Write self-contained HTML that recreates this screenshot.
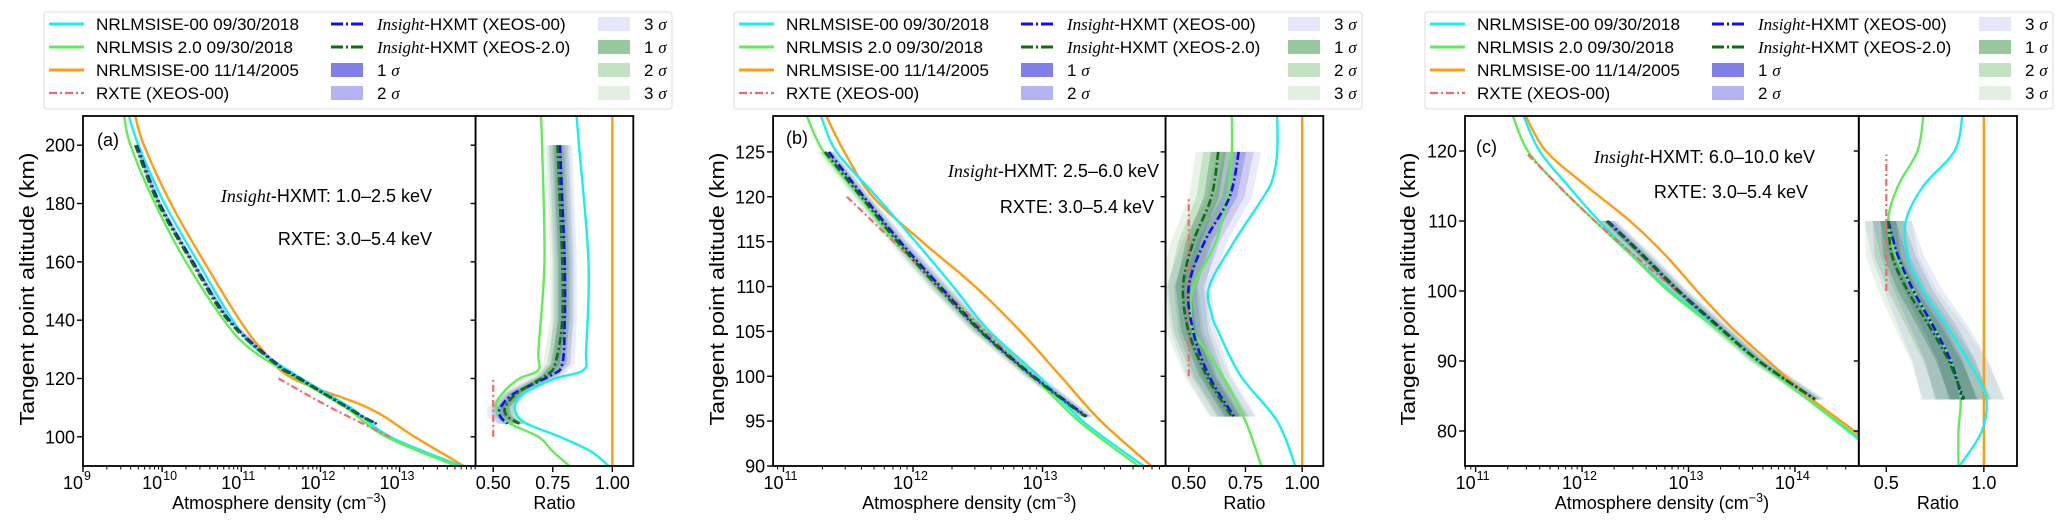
<!DOCTYPE html>
<html><head><meta charset="utf-8"><style>
html,body{margin:0;padding:0;background:#fff;}
svg{display:block;font-family:"Liberation Sans","DejaVu Sans",sans-serif;}
</style></head><body>
<svg id="fig" width="2067" height="527" viewBox="0 0 2067 527" xmlns="http://www.w3.org/2000/svg"></svg>
<script>
// ---------- Panel (a) data ----------
const altA = [210,200,180,160,140,130,120,110,100,90];
const cyanA = [9.58,9.70,10.03,10.45,10.89,11.2,11.76,12.38,12.88,13.78];
const greenA = [9.52,9.60,9.91,10.30,10.78,11.12,11.70,12.32,12.83,13.72];
const orangeA = [9.66,9.77,10.11,10.53,10.98,11.26,11.65,12.6,13.19,13.81];
const ratioAltA = [210,200,160,130,123,120,115,110,105,100,95,90];
const cyanRatioA = [0.85,0.86,0.90,0.89,0.88,0.76,0.63,0.59,0.63,0.78,0.91,0.985];
const greenRatioA = [0.70,0.705,0.715,0.69,0.69,0.61,0.54,0.51,0.56,0.69,0.75,0.82];
const hxmtAltA = [200,180,160,140,125,121,115,110,107,104.5];
const hxmtBlueA = [9.68,9.97,10.39,10.85,11.45,11.68,12.04,12.35,12.53,12.71];
const hxmtGreenA = [9.66,9.95,10.37,10.83,11.43,11.66,12.03,12.34,12.52,12.70];
const hxmtBlueRatioA = [0.78,0.79,0.80,0.80,0.79,0.74,0.59,0.53,0.53,0.56];
const hxmtGreenRatioA = [0.77,0.78,0.79,0.79,0.76,0.72,0.60,0.55,0.56,0.61];
const sigA = [0.017,0.017,0.017,0.017,0.017,0.017,0.018,0.018,0.018,0.018];
const rxteAltA = [120,110,100];
const rxteA = [11.47,12.13,12.88];
// ---------- Panel (b) data ----------
const altB = [129,125,120,115,110,105,100,95,90];
const cyanB = [11.29,11.41,11.72,12.02,12.31,12.59,12.97,13.31,13.78];
const greenB = [11.18,11.31,11.59,11.86,12.21,12.55,12.93,13.28,13.74];
const orangeB = [11.33,11.47,11.69,12.07,12.48,12.83,13.14,13.45,13.84];
const ratioAltB = [129,125,122,120,115,110,107,105,100,95,90];
const cyanRatioB = [0.89,0.89,0.87,0.83,0.70,0.59,0.60,0.63,0.73,0.89,0.97];
const greenRatioB = [0.69,0.69,0.68,0.67,0.62,0.52,0.51,0.52,0.65,0.75,0.82];
const hxmtAltB = [125,120,115,110,105,100,95.5];
const hxmtBlueB = [11.35,11.62,11.90,12.21,12.53,12.93,13.34];
const hxmtGreenB = [11.32,11.60,11.88,12.19,12.52,12.92,13.33];
const hxmtBlueRatioB = [0.72,0.68,0.57,0.50,0.52,0.59,0.70];
const hxmtGreenRatioB = [0.63,0.60,0.52,0.475,0.50,0.58,0.69];
const sigB = [0.033,0.033,0.033,0.033,0.033,0.033,0.033];
const rxteAltB = [120,110,100];
const rxteB = [11.49,12.21,12.91];
// ---------- Panel (c) data ----------
const altC = [125,120,115,110,105,100,95,90,85,80,75];
const cyanC = [11.45,11.60,11.87,12.16,12.49,12.83,13.25,13.66,14.08,14.50,14.90];
const greenC = [11.35,11.49,11.78,12.12,12.47,12.81,13.23,13.64,14.08,14.52,14.95];
const orangeC = [11.47,11.66,12.04,12.45,12.79,13.08,13.39,13.75,14.12,14.56,15.00];
const ratioAltC = [125,120,115,110,105,100,95,90,85,80,75];
const cyanRatioC = [0.89,0.85,0.69,0.60,0.61,0.69,0.81,0.92,1.01,0.99,0.875];
const greenRatioC = [0.69,0.66,0.56,0.51,0.55,0.64,0.74,0.83,0.88,0.87,0.87];
const hxmtAltC = [110,105,100,95,90,84.5];
const hxmtBlueC = [12.24,12.58,12.91,13.28,13.66,14.19];
const hxmtGreenC = [12.23,12.57,12.90,13.27,13.66,14.19];
const hxmtBlueRatioC = [0.51,0.56,0.64,0.74,0.83,0.89];
const hxmtGreenRatioC = [0.51,0.53,0.61,0.72,0.82,0.90];
const sigC = [0.04,0.045,0.05,0.06,0.065,0.07];
const rxteAltC = [119.5,110,100];
const rxteC = [11.49,12.12,12.89];
// ---------- tick labels ----------
const yTicksA = [100,120,140,160,180,200];
const yTicksB = [90,95,100,105,110,115,120,125];
const yTicksC = [80,90,100,110,120];
const xDecA = [9,10,11,12,13];
const xDecB = [11,12,13];
const xDecC = [11,12,13,14];
const rTicksA = ["0.50","0.75","1.00"];
const rTicksB = ["0.50","0.75","1.00"];
const rTicksC = ["0.5","1.0"];
const legendModels = ["NRLMSISE-00 09/30/2018","NRLMSIS 2.0 09/30/2018","NRLMSISE-00 11/14/2005","RXTE (XEOS-00)"];

const NS="http://www.w3.org/2000/svg";
const svg=document.getElementById('fig');
function mk(tag,attrs,parent){const e=document.createElementNS(NS,tag);for(const k in attrs)e.setAttribute(k,attrs[k]);(parent||svg).appendChild(e);return e;}
function spline(pts){
  if(pts.length<2)return '';
  let d='M'+pts[0][0].toFixed(2)+','+pts[0][1].toFixed(2);
  for(let i=0;i<pts.length-1;i++){
    const p0=pts[i-1]||pts[i],p1=pts[i],p2=pts[i+1],p3=pts[i+2]||pts[i+1];
    const c1=[p1[0]+(p2[0]-p0[0])/6,p1[1]+(p2[1]-p0[1])/6];
    const c2=[p2[0]-(p3[0]-p1[0])/6,p2[1]-(p3[1]-p1[1])/6];
    d+='C'+c1[0].toFixed(2)+','+c1[1].toFixed(2)+' '+c2[0].toFixed(2)+','+c2[1].toFixed(2)+' '+p2[0].toFixed(2)+','+p2[1].toFixed(2);
  }
  return d;
}
const C={cyan:'#19eef0',green:'#62ec58',orange:'#ff9c10',blue:'#1010ee',dgreen:'#0c6e10',red:'#f26a6a'};

const panels=[
 {id:'a',ox:0,x0:83,x1:475.6,x2:633.3,y0:116,y1:466,ylim:[90,210],llim:[9,13.96],rlim:[0.426,1.088],
  alt:altA,cyan:cyanA,green:greenA,orange:orangeA,ralt:ratioAltA,cr:cyanRatioA,gr:greenRatioA,
  halt:hxmtAltA,hb:hxmtBlueA,hg:hxmtGreenA,hbr:hxmtBlueRatioA,hgr:hxmtGreenRatioA,sig:sigA,
  xalt:rxteAltA,xr:rxteA,yt:yTicksA,xd:xDecA,rt:rTicksA,
  lab:[97,146],band:'1.0–2.5 keV',t1:[432,202],t2:[432,245],ylx:27},
 {id:'b',ox:690,x0:773.1,x1:1165.6,x2:1323.3,y0:116,y1:466,ylim:[90,129],llim:[10.92,13.95],rlim:[0.398,1.093],
  alt:altB,cyan:cyanB,green:greenB,orange:orangeB,ralt:ratioAltB,cr:cyanRatioB,gr:greenRatioB,
  halt:hxmtAltB,hb:hxmtBlueB,hg:hxmtGreenB,hbr:hxmtBlueRatioB,hgr:hxmtGreenRatioB,sig:sigB,
  xalt:rxteAltB,xr:rxteB,yt:yTicksB,xd:xDecB,rt:rTicksB,
  lab:[786,144],band:'2.5–6.0 keV',t1:[1159,177],t2:[1154,213],ylx:717},
 {id:'c',ox:1377,x0:1465,x1:1858.8,x2:2017,y0:116,y1:466,ylim:[75,125],llim:[10.9,14.6],rlim:[0.359,1.17],
  alt:altC,cyan:cyanC,green:greenC,orange:orangeC,ralt:ratioAltC,cr:cyanRatioC,gr:greenRatioC,
  halt:hxmtAltC,hb:hxmtBlueC,hg:hxmtGreenC,hbr:hxmtBlueRatioC,hgr:hxmtGreenRatioC,sig:sigC,
  xalt:rxteAltC,xr:rxteC,yt:yTicksC,xd:xDecC,rt:rTicksC,
  lab:[1476,153],band:'6.0–10.0 keV',t1:[1815,163],t2:[1808,198],ylx:1408}
];

panels.forEach(P=>{
  const g=mk('g',{});
  
  
  const Y=a=>P.y0+(P.ylim[1]-a)/(P.ylim[1]-P.ylim[0])*(P.y1-P.y0);
  const X=l=>P.x0+(l-P.llim[0])/(P.llim[1]-P.llim[0])*(P.x1-P.x0);
  const R=r=>P.x1+(r-P.rlim[0])/(P.rlim[1]-P.rlim[0])*(P.x2-P.x1);
  const defs=mk('defs',{},g);
  const cp1=mk('clipPath',{id:'cm'+P.id},defs);mk('rect',{x:P.x0,y:P.y0,width:P.x1-P.x0,height:P.y1-P.y0},cp1);
  const cp2=mk('clipPath',{id:'cr'+P.id},defs);mk('rect',{x:P.x1,y:P.y0,width:P.x2-P.x1,height:P.y1-P.y0},cp2);
  const gm=mk('g',{'clip-path':'url(#cm'+P.id+')'},g);
  
  
  const gr=mk('g',{'clip-path':'url(#cr'+P.id+')'},g);
  
  

  // bands
  function band(parent,alts,cen,sig,k,fill,op,name,toLog,ratio){
    const L=[],Rr=[];
    alts.forEach((a,i)=>{
      let lo,hi;
      if(toLog){const d=Math.log10(1+k*sig[i]/ratio[i]);lo=X(cen[i]-d);hi=X(cen[i]+d);}
      else{lo=R(cen[i]-k*sig[i]);hi=R(cen[i]+k*sig[i]);}
      L.push([lo,Y(a)]);Rr.push([hi,Y(a)]);
    });
    const pts=L.concat(Rr.reverse());
    const p=mk('polygon',{points:pts.map(q=>q[0].toFixed(2)+','+q[1].toFixed(2)).join(' '),fill:fill,'fill-opacity':op},parent);
    
    
  }
  [[3,'#8a8ae8',0.18],[2,'#6f6fe0',0.25],[1,'#5a5ad8',0.3]].forEach(s=>{
    band(gr,P.halt,P.hbr,P.sig,s[0],s[1],s[2],'ratio-band-xeos00-'+s[0]+'sigma',false);
    band(gm,P.halt,P.hb,P.sig,s[0],s[1],s[2]*0.8,'density-band-xeos00-'+s[0]+'sigma',true,P.hbr);
  });
  [[3,'#7fc07a',0.18],[2,'#5fae5f',0.25],[1,'#2f7f3f',0.3]].forEach(s=>{
    band(gr,P.halt,P.hgr,P.sig,s[0],s[1],s[2],'ratio-band-xeos20-'+s[0]+'sigma',false);
    band(gm,P.halt,P.hg,P.sig,s[0],s[1],s[2]*0.8,'density-band-xeos20-'+s[0]+'sigma',true,P.hgr);
  });
  function line(parent,alts,vals,f,color,w,dash,name){
    const pts=alts.map((a,i)=>[f(vals[i]),Y(a)]);
    const p=mk('path',{d:spline(pts),fill:'none',stroke:color,'stroke-width':w,'stroke-linecap':'butt','stroke-linejoin':'round'},parent);
    if(dash)p.setAttribute('stroke-dasharray',dash);
    
    
  }
  line(gm,P.alt,P.orange,X,C.orange,2.4,null,'nrlmsise00-2005-density-line');
  line(gm,P.alt,P.cyan,X,C.cyan,2.4,null,'nrlmsise00-2018-density-line');
  line(gm,P.alt,P.green,X,C.green,2.4,null,'nrlmsis20-2018-density-line');
  line(gm,P.xalt,P.xr,X,C.red,2.2,'7,3,2,3','rxte-density-line');
  line(gm,P.halt,P.hb,X,C.blue,2.6,'8,3,2,3','hxmt-xeos00-density-line');
  line(gm,P.halt,P.hg,X,C.dgreen,2.6,'8,3,2,3','hxmt-xeos20-density-line');
  // ratio
  const oneX=R(1);
  const ol=mk('line',{x1:oneX,x2:oneX,y1:P.y0,y2:P.y1,stroke:C.orange,'stroke-width':2.4},gr);
  
  
  line(gr,P.ralt,P.cr,R,C.cyan,2.4,null,'nrlmsise00-2018-ratio-line');
  line(gr,P.ralt,P.gr,R,C.green,2.4,null,'nrlmsis20-2018-ratio-line');
  const rx=R(0.5);
  const rl=mk('line',{x1:rx,x2:rx,y1:Y(P.xalt[P.xalt.length-1]),y2:Y(P.xalt[0]),stroke:C.red,'stroke-width':2.2,'stroke-dasharray':'7,3,2,3'},gr);
  
  
  line(gr,P.halt,P.hbr,R,C.blue,2.6,'8,3,2,3','hxmt-xeos00-ratio-line');
  line(gr,P.halt,P.hgr,R,C.dgreen,2.6,'8,3,2,3','hxmt-xeos20-ratio-line');

  // frames
  const f1=mk('rect',{x:P.x0,y:P.y0,width:P.x1-P.x0,height:P.y1-P.y0,fill:'none',stroke:'#000','stroke-width':1.8},g);
  
  
  const f2=mk('rect',{x:P.x1,y:P.y0,width:P.x2-P.x1,height:P.y1-P.y0,fill:'none',stroke:'#000','stroke-width':1.8},g);
  
  
  // y ticks
  P.yt.forEach(v=>{
    const y=Y(v);
    mk('line',{x1:P.x0-6,x2:P.x0,y1:y,y2:y,stroke:'#000','stroke-width':1.4},g);
    mk('line',{x1:P.x1-5,x2:P.x1,y1:y,y2:y,stroke:'#000','stroke-width':1.4},g);
    const t=mk('text',{x:P.x0-8,y:y+6.5,'font-size':18,'text-anchor':'end',fill:'#000'},g);
    t.textContent=v;
    
    
  });
  // x log ticks
  for(let d=Math.floor(P.llim[0]);d<=Math.ceil(P.llim[1]);d++){
    for(let m=1;m<10;m++){
      const l=d+Math.log10(m);
      if(l<P.llim[0]-1e-6||l>P.llim[1]+1e-6)continue;
      const x=X(l);
      mk('line',{x1:x,x2:x,y1:P.y1,y2:P.y1+(m===1?6:3.5),stroke:'#000','stroke-width':m===1?1.4:1},g);
    }
  }
  P.xd.forEach(d=>{
    const x=X(d);
    const t=mk('text',{x:x-10,y:489,'font-size':18,'text-anchor':'middle',fill:'#000'},g);
    t.textContent='10';
    
    
    const s=mk('text',{x:x+1,y:480,'font-size':12.5,'text-anchor':'start',fill:'#000'},g);
    s.textContent=String(d);
    
    
  });
  P.rt.forEach(v=>{
    const x=R(parseFloat(v));
    mk('line',{x1:x,x2:x,y1:P.y1,y2:P.y1+6,stroke:'#000','stroke-width':1.4},g);
    const t=mk('text',{x:x,y:489,'font-size':18,'text-anchor':'middle',fill:'#000'},g);
    t.textContent=v;
    
    
  });
  // axis titles
  const xt=mk('text',{x:(P.x0+P.x1)/2,y:509,'font-size':18,'text-anchor':'middle',fill:'#000'},g);
  xt.innerHTML='Atmosphere density (cm<tspan font-size="12.5" dy="-7">−3</tspan><tspan dy="7">)</tspan>';
  
  
  const rtl=mk('text',{x:(P.x1+P.x2)/2,y:509,'font-size':18,'text-anchor':'middle',fill:'#000'},g);
  rtl.textContent='Ratio';
  
  
  const yl=mk('text',{x:0,y:0,'font-size':20,'text-anchor':'middle',fill:'#000',transform:'translate('+(P.ylx+7)+',289) rotate(-90)',textLength:273,lengthAdjust:'spacingAndGlyphs'},g);
  yl.textContent='Tangent point altitude (km)';
  
  
  // annotations
  const pl=mk('text',{x:P.lab[0],y:P.lab[1],'font-size':18,fill:'#000'},g);
  pl.textContent='('+P.id+')';
  
  
  const a1=mk('text',{x:P.t1[0],y:P.t1[1],'font-size':18,'text-anchor':'end',fill:'#000'},g);
  a1.innerHTML='<tspan font-family="Liberation Serif,serif" font-style="italic">Insight</tspan>-HXMT: '+P.band;
  
  
  const a2=mk('text',{x:P.t2[0],y:P.t2[1],'font-size':18,'text-anchor':'end',fill:'#000'},g);
  a2.textContent='RXTE: 3.0–5.4 keV';
  
  

  // legend
  const lx=P.ox+(P.id==='c'?48:44);
  const lg=mk('g',{},g);
  
  
  mk('rect',{x:lx,y:12,width:628,height:97,rx:3,fill:'#fff',stroke:'#dcdcdc','stroke-width':1},lg);
  const rows=[24,47,70,93];
  const modelCols=[C.cyan,C.green,C.orange,C.red];
  legendModels.forEach((txt,i)=>{
    const e=mk('g',{},lg);
    
    
    const ln=mk('line',{x1:lx+5,x2:lx+40,y1:rows[i],y2:rows[i],stroke:modelCols[i],'stroke-width':i===3?2.2:3},e);
    if(i===3)ln.setAttribute('stroke-dasharray','8,3,2,3');
    const t=mk('text',{x:lx+52,y:rows[i]+6,'font-size':17,fill:'#000'},e);
    t.textContent=txt;
    if(i<3){t.setAttribute('textLength',i===1?197:203);t.setAttribute('lengthAdjust','spacingAndGlyphs');}
  });
  const c2=lx+287;
  [['XEOS-00',C.blue],['XEOS-2.0',C.dgreen]].forEach((v,i)=>{
    const e=mk('g',{},lg);
    
    
    mk('line',{x1:c2,x2:c2+32,y1:rows[i],y2:rows[i],stroke:v[1],'stroke-width':3,'stroke-dasharray':'12,3,2,3'},e);
    const t=mk('text',{x:c2+46,y:rows[i]+6,'font-size':17,fill:'#000'},e);
    t.innerHTML='<tspan font-family="Liberation Serif,serif" font-style="italic">Insight</tspan>-HXMT ('+v[0]+')';
  });
  const patches=[[c2,rows[2],'#8080e8','1'],[c2,rows[3],'#b4b4f4','2'],[lx+554,rows[0],'#e6e6fb','3'],[lx+554,rows[1],'#96c89c','1'],[lx+554,rows[2],'#c2e2c2','2'],[lx+554,rows[3],'#e2f1df','3']];
  patches.forEach(p=>{
    const e=mk('g',{},lg);
    
    
    mk('rect',{x:p[0],y:p[1]-7,width:32,height:14,fill:p[2]},e);
    const t=mk('text',{x:p[0]+46,y:p[1]+6,'font-size':17,fill:'#000'},e);
    t.innerHTML=p[3]+' <tspan font-family="Liberation Serif,serif" font-style="italic">σ</tspan>';
  });
});
</script>
</body></html>
